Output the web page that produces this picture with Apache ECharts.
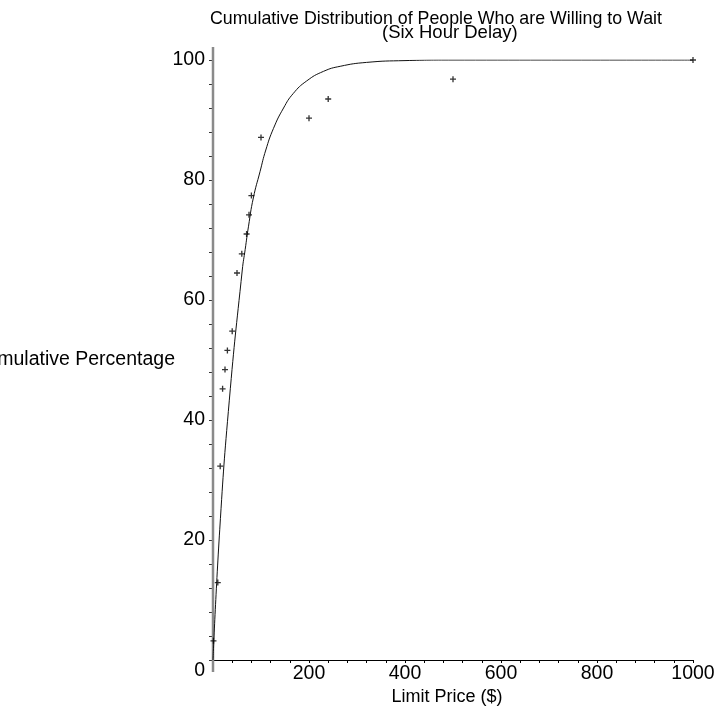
<!DOCTYPE html>
<html>
<head>
<meta charset="utf-8">
<script src="https://cdn.jsdelivr.net/npm/echarts@6/dist/echarts.min.js"></script>
<style>
  html, body { margin: 0; padding: 0; background: #fff; }
  #chart { width: 714px; height: 707px; }
</style>
</head>
<body>
<div id="chart"></div>
<script>
// Observed responses: limit price ($) and cumulative percentage willing to wait
const limitPrices = [1, 10, 15, 20, 25, 30, 40, 50, 60, 70, 75, 80, 100, 200, 240, 500, 1000];
const cumulativePct = [3.2, 12.9, 32.3, 45.2, 48.4, 51.6, 54.8, 64.5, 67.7, 71.0, 74.2, 77.4, 87.1, 90.3, 93.5, 96.8, 100];

// Fitted distribution curve
const curvePrices = [0, 14, 34, 61, 67, 74, 84, 98, 110, 126, 147, 167, 195, 230, 265, 320, 400, 500, 1000];
const curvePct = [0, 21.7, 43.3, 65, 68.4, 72.3, 77.0, 81.4, 85.0, 88.6, 92.0, 94.4, 96.5, 98.1, 98.95, 99.6, 99.9, 100, 100];

// Labelled ticks
const xTickLabels = [200, 400, 600, 800, 1000];
const yTickLabels = [0, 20, 40, 60, 80, 100];

const FONT = 'Liberation Sans, Arial, sans-serif';
const chart = echarts.init(document.getElementById('chart'));

const plusSymbol = 'path://M-0.22,-1H0.22V-0.22H1V0.22H0.22V1H-0.22V0.22H-1V-0.22H-0.22Z';

chart.setOption({
  animation: false,
  backgroundColor: '#fff',
  title: [
    {
      text: 'Cumulative Distribution of People Who are Willing to Wait',
      left: 210, top: 10, padding: 0,
      textStyle: { fontFamily: FONT, fontSize: 17.8, fontWeight: 'normal', color: '#000' }
    },
    {
      text: '(Six Hour Delay)',
      left: 382, top: 23, padding: 0,
      textStyle: { fontFamily: FONT, fontSize: 18.5, fontWeight: 'normal', color: '#000' }
    }
  ],
  grid: { left: 213, right: 21, top: 60, bottom: 47, containLabel: false, outerBoundsMode: 'none' },
  xAxis: {
    type: 'value',
    min: 0, max: 1000, interval: 40,
    name: 'Limit Price ($)',
    nameLocation: 'middle',
    nameGap: 28,
    nameMoveOverlap: false,
    nameTextStyle: { fontFamily: FONT, fontSize: 18, color: '#000', padding: [0, 12, 0, 0] },
    axisLine: { show: true, onZero: false, lineStyle: { color: '#000', width: 1 } },
    axisTick: { show: true, length: 3, lineStyle: { color: '#000', width: 1 } },
    axisLabel: {
      fontFamily: FONT, fontSize: 19.5, color: '#000', margin: 4,
      formatter: v => xTickLabels.includes(v) ? String(v) : ''
    },
    splitLine: { show: false }
  },
  yAxis: {
    type: 'value',
    min: 0, max: 100, interval: 4,
    name: 'Cumulative Percentage',
    nameLocation: 'middle',
    nameRotate: 0,
    nameGap: 38,
    nameMoveOverlap: false,
    nameTextStyle: { fontFamily: FONT, fontSize: 19.5, color: '#000', align: 'right', padding: [0, 0, 12, 0] },
    axisLine: { show: false },
    axisTick: { show: true, length: 4, lineStyle: { color: '#333', width: 1 } },
    axisLabel: {
      fontFamily: FONT, fontSize: 19.5, color: '#000', margin: 8,
      formatter: v => {
        if (!yTickLabels.includes(v)) return '';
        return v === 0 ? '{low|0}' : String(v);
      },
      rich: { low: { fontFamily: FONT, fontSize: 19.5, color: '#000', padding: [22, 0, 0, 0] } }
    },
    splitLine: { show: false }
  },
  series: [
    {
      type: 'line',
      data: curvePrices.map((x, i) => [x, curvePct[i]]),
      showSymbol: false,
      smooth: 0.5,
      lineStyle: { color: '#111', width: 1 },
      z: 2
    },
    {
      type: 'scatter',
      data: limitPrices.map((x, i) => [x, cumulativePct[i]]),
      symbol: plusSymbol,
      symbolSize: 6,
      itemStyle: { color: '#000' },
      z: 3
    }
  ]
});

// Vertical axis line, drawn a little past both ends of the value range
const axisTopPx = chart.convertToPixel({ gridIndex: 0 }, [0, 100]);
const axisBottomPx = chart.convertToPixel({ gridIndex: 0 }, [0, 0]);
chart.setOption({
  graphic: [{
    type: 'line',
    shape: { x1: axisTopPx[0], y1: axisTopPx[1] - 13, x2: axisBottomPx[0], y2: axisBottomPx[1] + 12 },
    style: { stroke: '#8a8a8a', lineWidth: 2.5 },
    z: 1
  }]
});
</script>
</body>
</html>
